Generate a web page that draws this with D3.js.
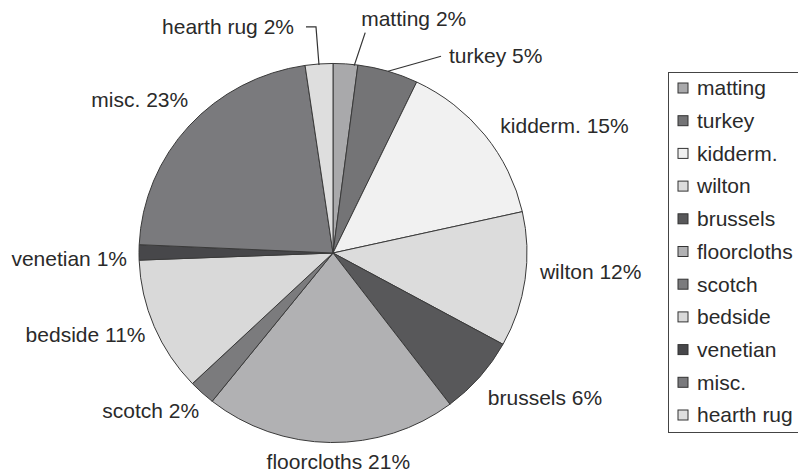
<!DOCTYPE html>
<html><head><meta charset="utf-8">
<script src="https://cdn.jsdelivr.net/npm/d3@7/dist/d3.min.js"></script>
<style>
body{margin:0;background:#fff}
text{font-family:"Liberation Sans",Arial,sans-serif;fill:#2a2a2a}
</style>
</head><body>
<svg id="chart" width="798" height="473"></svg>
<script>
// ---- data ----
const categories = ["matting","turkey","kidderm.","wilton","brussels","floorcloths","scotch","bedside","venetian","misc.","hearth rug"];
const shares     = [2.05, 5.05, 14.4, 11.5, 6.7, 21.0, 2.2, 11.5, 1.3, 22.0, 2.3];
const percentLabels = ["2%","5%","15%","12%","6%","21%","2%","11%","1%","23%","2%"];
const fills = ["#a9a9ab","#747476","#f1f1f1","#dcdcdc","#58585a","#b1b1b3","#7b7b7d","#d9d9d9","#47474a","#7a7a7d","#dedede"];

// ---- layout ----
const W = 798, H = 473;
const cx = 333, cy = 253, R = 194, LR = 210, squash = 0.977;
const FS = 21;
// label placement tweaks: [dx, dy, anchor, leader]
const place = {
  "matting":    [0, 0, "start", "matting"],
  "turkey":     [0, 0, "start", "turkey"],
  "kidderm.":   [3, 0, "start", null],
  "wilton":     [-1, -10, "start", null],
  "brussels":   [-4, 10, "start", null],
  "floorcloths":[8, 3, "middle", null],
  "scotch":     [8, 6, "end", null],
  "bedside":    [6, 2, "end", null],
  "venetian":   [4, 6, "end", null],
  "misc.":      [11, -16, "end", null],
  "hearth rug": [0, 0, "end", "hearth"]
};

const svg = d3.select("#chart");
svg.append("rect").attr("width", W).attr("height", H).attr("fill", "#fff");

const data = categories.map((c, i) => ({cat: c, v: shares[i], pct: percentLabels[i], fill: fills[i]}));
const pie = d3.pie().value(d => d.v).sort(null);
const arcs = pie(data);
const arc = d3.arc().innerRadius(0).outerRadius(R);

const g = svg.append("g").attr("transform", `translate(${cx},${cy}) scale(1,${squash})`);
g.selectAll("path.slice").data(arcs).join("path")
  .attr("class", "slice")
  .attr("d", arc)
  .attr("fill", d => d.data.fill)
  .attr("stroke", "#3a3a3a")
  .attr("stroke-width", 1)
  .attr("vector-effect", "non-scaling-stroke")
  .attr("stroke-linejoin", "round");

const polar = (a, r) => [cx + Math.sin(a) * r, cy - Math.cos(a) * r * squash];

const lab = svg.append("g");
const line = d3.line();
arcs.forEach(d => {
  const mid = (d.startAngle + d.endAngle) / 2;
  const p = place[d.data.cat];
  const edge = polar(mid, R);
  let tx, ty, anchor = p[2];
  if (p[3] === "turkey") {
    const end = [edge[0] + 53, edge[1] - 15];
    lab.append("path").attr("d", line([edge, end])).attr("stroke", "#333").attr("fill", "none").attr("stroke-width", 1.2);
    tx = end[0] + 8; ty = end[1] - 1;
  } else if (p[3] === "matting") {
    const s = polar(d.endAngle * 0.85 + d.startAngle * 0.15, R);
    const end = [s[0] + 11, s[1] - 32];
    lab.append("path").attr("d", line([[s[0], s[1] + 1], end])).attr("stroke", "#333").attr("fill", "none").attr("stroke-width", 1.2);
    tx = end[0] - 4; ty = end[1] - 14;
  } else if (p[3] === "hearth") {
    const s = polar(mid, R);
    const up = [s[0] - 3, s[1] - 37];
    const left = [up[0] - 10, up[1]];
    lab.append("path").attr("d", line([[s[0], s[1] + 1], up, left])).attr("stroke", "#333").attr("fill", "none").attr("stroke-width", 1.2);
    tx = left[0] - 12; ty = left[1];
  } else {
    const q = polar(mid, LR);
    tx = q[0] + p[0]; ty = q[1] + p[1];
  }
  lab.append("text")
    .attr("x", tx).attr("y", ty).attr("dy", "0.35em")
    .attr("text-anchor", anchor)
    .attr("font-size", FS)
    .text(`${d.data.cat} ${d.data.pct}`);
});

// ---- legend ----
const lx = 668.5, ly = 72.5, lw = 140, step = 32.7;
const leg = svg.append("g");
leg.append("rect").attr("x", lx).attr("y", ly).attr("width", lw).attr("height", 360)
  .attr("fill", "#fff").attr("stroke", "#444").attr("stroke-width", 1);
const items = leg.selectAll("g.item").data(data).join("g")
  .attr("class", "item")
  .attr("transform", (d, i) => `translate(${lx + 9.5},${ly + 15.5 + i * step})`);
items.append("rect").attr("x", 0).attr("y", -5).attr("width", 10).attr("height", 10)
  .attr("fill", d => d.fill).attr("stroke", "#333").attr("stroke-width", 1);
items.append("text").attr("x", 19).attr("y", 0).attr("dy", "0.35em")
  .attr("font-size", FS).text(d => d.cat);
</script>
</body></html>
